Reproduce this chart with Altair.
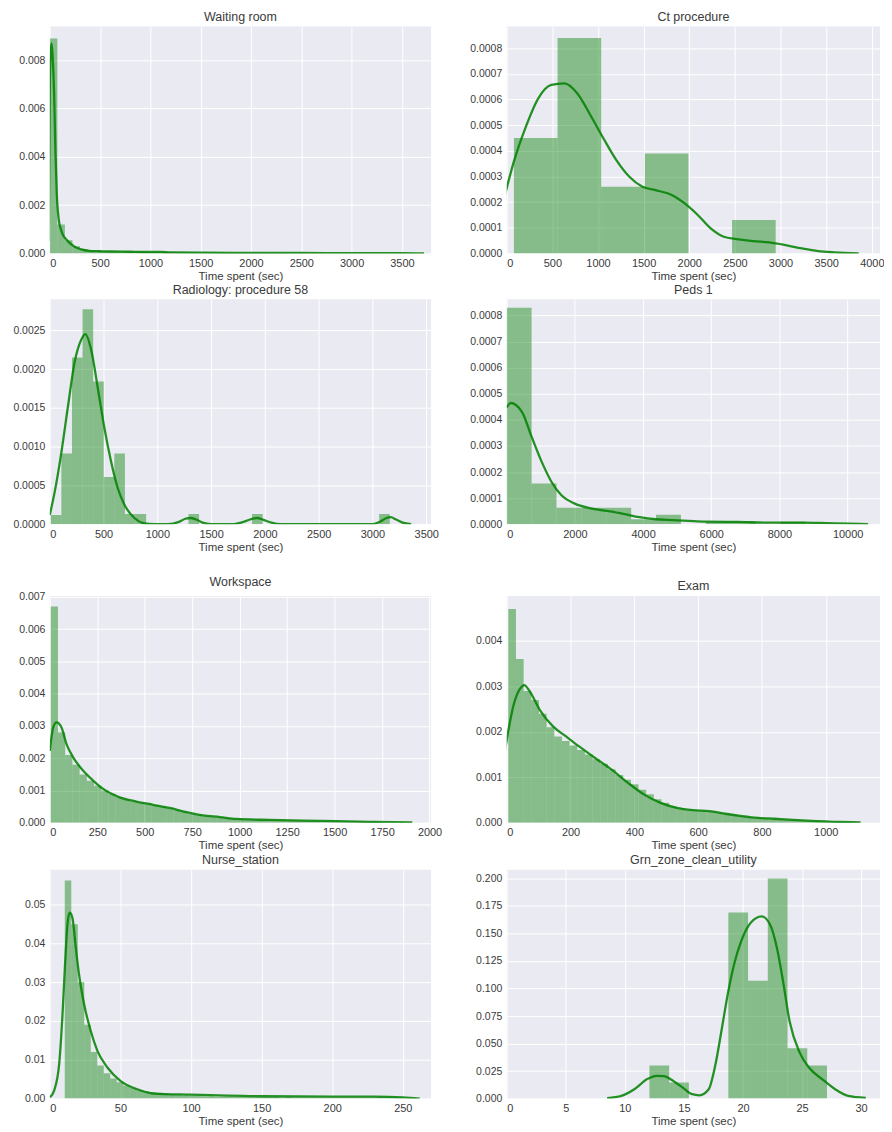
import altair as alt
import pandas as pd

# ---------------- Waiting room ----------------
wr_title = "Waiting room"
wr_bin_start = 0
wr_bin_width = 75
wr_hist = [0.0089, 0.0012, 0.00055, 0.0003, 0.00018, 0.00012, 0.0001, 0.00009, 0.00009, 0.00008,
           0.00008, 0.00007, 0.00007, 0.00006, 0.00005, 0.00006, 0.00004, 0.00004, 0.00004, 0.00003,
           0.00003, 0.00003, 0.00003, 0.00002, 0.00003, 0.00002, 0.00002, 0.00002, 0.00002, 0.00002,
           0.00002, 0.00002, 0.00001, 0.00002, 0.00001, 0.00001, 0.00001, 0.00001, 0.00001, 0.00001,
           0.00001, 0.00001, 0.00001, 0.00001, 0.00001, 0.00001, 0.00001, 0.00001, 0.00001, 0.00001]
wr_kde_x = [-10, 0, 8, 18, 30, 43, 56, 69, 89, 110, 132, 160, 181, 247, 313, 412, 500, 610, 800,
            940, 1100, 1200, 1500, 2000, 2500, 3000, 3500, 3720]
wr_kde_y = [0.0005, 0.0070, 0.0083, 0.0087, 0.0080, 0.0066, 0.0042, 0.0025, 0.0014, 0.0010, 0.00075,
            0.0006, 0.0005, 0.00028, 0.00017, 0.0001, 0.00009, 0.00008, 0.00007, 0.00006, 0.00006,
            0.00004, 0.00003, 0.00002, 0.00002, 0.00001, 0.00001, 0.0]
wr_xdom = [0, 3790]
wr_ydom = [0, 0.0094]
wr_xticks = [0, 500, 1000, 1500, 2000, 2500, 3000, 3500]
wr_yticks = [0, 0.002, 0.004, 0.006, 0.008]
wr_yfmt = ".3f"

# ---------------- Ct procedure ----------------
ct_title = "Ct procedure"
ct_bin_start = 79
ct_bin_width = 478
ct_hist = [0.00045, 0.00084, 0.00026, 0.00039, 0.0, 0.00013]
ct_kde_x = [-18, 78, 203, 346, 488, 631, 774, 916, 1059, 1201, 1344, 1487, 1629, 1807, 1950, 2093,
            2235, 2378, 2520, 2699, 2877, 3055, 3234, 3412, 3590, 3857]
ct_kde_y = [0.00023, 0.000358, 0.000488, 0.000605, 0.000657, 0.000663, 0.000624, 0.00054, 0.000449,
            0.000364, 0.000299, 0.00026, 0.000247, 0.000228, 0.000195, 0.00015, 0.0000975, 0.000065,
            0.000056, 0.000048, 0.000043, 0.0000325, 0.0000195, 0.000009, 0.000004, 0.0]
ct_xdom = [0, 4090]
ct_ydom = [0, 0.000885]
ct_xticks = [0, 500, 1000, 1500, 2000, 2500, 3000, 3500, 4000]
ct_yticks = [0, 0.0001, 0.0002, 0.0003, 0.0004, 0.0005, 0.0006, 0.0007, 0.0008]
ct_yfmt = ".4f"

# ---------------- Radiology: procedure 58 ----------------
rp_title = "Radiology: procedure 58"
rp_bin_start = 9
rp_bin_width = 98.5
rp_hist = [0.00012, 0.00091, 0.00215, 0.00277, 0.00184, 0.00061, 0.00091, 0.00013, 0.00013, 0.0,
           0.0, 0.0, 0.0, 0.00013, 0.0, 0.0, 0.0, 0.0, 0.0, 0.00013,
           0.0, 0.0, 0.0, 0.0, 0.0, 0.0, 0.0, 0.0, 0.0, 0.0,
           0.0, 0.00013, 0.0]
rp_kde_x = [0, 46, 108, 170, 231, 293, 330, 386, 448, 509, 571, 633, 694, 787, 880, 972, 1100, 1200,
            1260, 1310, 1360, 1420, 1500, 1700, 1800, 1880, 1930, 1980, 2060, 2150, 3000, 3080, 3130,
            3170, 3220, 3280, 3360]
rp_kde_y = [0.00012, 0.00042, 0.00093, 0.00153, 0.00209, 0.00238, 0.00245, 0.00224, 0.00174, 0.00123,
            0.0008, 0.00046, 0.00025, 0.00008, 0.00001, 0.0, 0.0, 0.00003, 0.00007, 0.00008, 0.00006,
            0.00002, 0.0, 0.0, 0.00003, 0.00007, 0.00008, 0.00006, 0.00002, 0.0, 0.0, 0.00004,
            0.00008, 0.00009, 0.00006, 0.00002, 0.0]
rp_xdom = [0, 3545]
rp_ydom = [0, 0.0029]
rp_xticks = [0, 500, 1000, 1500, 2000, 2500, 3000, 3500]
rp_yticks = [0, 0.0005, 0.0010, 0.0015, 0.0020, 0.0025]
rp_yfmt = ".4f"

# ---------------- Peds 1 ----------------
pd1_title = "Peds 1"
pd1_bin_start = 0
pd1_bin_width = 730
pd1_hist = [0.00083, 0.000156, 0.0000635, 0.0000635, 0.0000635, 0.000019, 0.000036, 0.0,
            0.000009, 0.000009, 0.0, 0.000009, 0.0, 0.0]
pd1_kde_x = [0, 115, 450, 718, 1024, 1311, 1598, 1981, 2460, 2938, 3416, 3895, 4373, 4852, 5330,
             5809, 6766, 7723, 8202, 8680, 9159, 9637, 10355, 10600]
pd1_kde_y = [0.000448, 0.000465, 0.00043, 0.00034, 0.00024, 0.000163, 0.000112, 0.00008, 0.000061,
             0.000051, 0.00004, 0.000027, 0.000019, 0.000016, 0.000013, 0.00001, 0.0000089, 0.000006,
             0.000006, 0.000006, 0.000005, 0.000003, 0.000001, 0.0]
pd1_xdom = [0, 10950]
pd1_ydom = [0, 0.000863]
pd1_xticks = [0, 2000, 4000, 6000, 8000, 10000]
pd1_yticks = [0, 0.0001, 0.0002, 0.0003, 0.0004, 0.0005, 0.0006, 0.0007, 0.0008]
pd1_yfmt = ".4f"

# ---------------- Workspace ----------------
ws_title = "Workspace"
ws_bin_start = 5
ws_bin_width = 38
ws_hist = [0.0067, 0.0028, 0.0021, 0.0018, 0.0015, 0.0013, 0.00115, 0.001, 0.0009, 0.0008,
           0.00073, 0.00067, 0.00062, 0.00058, 0.00054, 0.0005, 0.00046, 0.0004, 0.00034, 0.00028,
           0.00024, 0.00021, 0.00019, 0.00017, 0.00015, 0.00013, 0.00011, 0.0001, 0.0001, 0.00009,
           0.00009, 0.00008, 0.00008, 0.00007, 0.00007, 0.00006, 0.00006, 0.00005, 0.00005, 0.00005,
           0.00004, 0.00004, 0.00004, 0.00003, 0.00003, 0.00003, 0.00002, 0.00002, 0.00002, 0.00001]
ws_kde_x = [0, 18, 35, 61, 88, 123, 175, 228, 281, 368, 456, 544, 632, 719, 807, 895, 982, 1158,
            1333, 1509, 1684, 1909]
ws_kde_y = [0.00223, 0.00296, 0.00311, 0.00296, 0.00244, 0.00203, 0.00162, 0.00131, 0.00105, 0.00079,
            0.00066, 0.00056, 0.00046, 0.00033, 0.00023, 0.00018, 0.00012, 0.00009, 0.00007, 0.00005,
            0.00003, 0.00001]
ws_xdom = [0, 2008]
ws_ydom = [0, 0.00703]
ws_xticks = [0, 250, 500, 750, 1000, 1250, 1500, 1750, 2000]
ws_yticks = [0, 0.001, 0.002, 0.003, 0.004, 0.005, 0.006, 0.007]
ws_yfmt = ".3f"

# ---------------- Exam ----------------
ex_title = "Exam"
ex_bin_start = 5
ex_bin_width = 24
ex_hist = [0.0047, 0.0036, 0.0029, 0.0027, 0.0024, 0.0021, 0.0019, 0.0018, 0.0017, 0.0016,
           0.0015, 0.0014, 0.0013, 0.00118, 0.00105, 0.00095, 0.00085, 0.00073, 0.00063, 0.00052,
           0.00044, 0.00036, 0.00032, 0.00028, 0.00027, 0.00026, 0.00025, 0.00022, 0.0002, 0.00017,
           0.00015, 0.00013, 0.00011, 0.0001, 0.00009, 0.00008, 0.00007, 0.00006, 0.00005, 0.00004,
           0.00004, 0.00003, 0.00003, 0.00002, 0.00002, 0.00001]
ex_kde_x = [-5, 7, 22, 43, 55, 73, 104, 145, 186, 227, 278, 329, 380, 431, 482, 533, 584, 635, 686,
            737, 788, 839, 941, 1043, 1109]
ex_kde_y = [0.0016, 0.0021, 0.0026, 0.00296, 0.00303, 0.00288, 0.00248, 0.00212, 0.0019, 0.00168,
            0.00142, 0.00117, 0.00088, 0.00062, 0.00044, 0.00033, 0.00028, 0.00026, 0.0002, 0.00015,
            0.00011, 0.00009, 0.00005, 0.00002, 0.00001]
ex_xdom = [0, 1170]
ex_ydom = [0, 0.00499]
ex_xticks = [0, 200, 400, 600, 800, 1000]
ex_yticks = [0, 0.001, 0.002, 0.003, 0.004]
ex_yfmt = ".3f"

# ---------------- Nurse_station ----------------
ns_title = "Nurse_station"
ns_bin_start = 10.6
ns_bin_width = 4.6
ns_hist = [0.0562, 0.0449, 0.030, 0.019, 0.012, 0.0085, 0.0065, 0.0052, 0.0042, 0.0034,
           0.0027, 0.0022, 0.0019, 0.0017, 0.0015, 0.0013, 0.0011, 0.0009, 0.0008, 0.0008,
           0.0007, 0.0006, 0.0006, 0.0005, 0.0005, 0.0005, 0.0004, 0.0004, 0.0004, 0.0004,
           0.0004, 0.0004, 0.0004, 0.0003, 0.0004, 0.0003, 0.0003, 0.0003, 0.0003, 0.0003,
           0.0003, 0.0003, 0.0003, 0.0003, 0.0003, 0.0003, 0.0003, 0.0003, 0.0004, 0.0003,
           0.0002, 0.0002]
ns_kde_x = [0, 3, 6.6, 9, 10.8, 12.5, 14.1, 16, 18.4, 20.7, 24.3, 29, 33.7, 40.8, 50.2, 62, 73.6,
            100, 150, 200, 230, 250, 262]
ns_kde_y = [0.0003, 0.002, 0.0088, 0.0217, 0.0346, 0.0449, 0.0479, 0.0466, 0.0389, 0.032, 0.0243,
            0.0174, 0.0123, 0.008, 0.0045, 0.0024, 0.0013, 0.001, 0.0006, 0.0005, 0.0005, 0.0003, 0.0]
ns_xdom = [0, 270]
ns_ydom = [0, 0.059]
ns_xticks = [0, 50, 100, 150, 200, 250]
ns_yticks = [0, 0.01, 0.02, 0.03, 0.04, 0.05]
ns_yfmt = ".2f"

# ---------------- Grn_zone_clean_utility ----------------
gz_title = "Grn_zone_clean_utility"
gz_bin_start = 12.08
gz_bin_width = 1.67
gz_hist = [0.030, 0.0146, 0.0, 0.0, 0.169, 0.107, 0.200, 0.0457, 0.030]
gz_kde_x = [8.5, 9.7, 10.8, 11.9, 12.7, 13.3, 14.1, 14.9, 15.7, 16.3, 17.1, 17.65, 18.2, 18.75,
            19.3, 19.85, 20.67, 21.58, 22.3, 22.87, 23.4, 23.96, 24.79, 25.6, 26.7, 27.8, 28.9, 30.4]
gz_kde_y = [0.0003, 0.0024, 0.0085, 0.0177, 0.0207, 0.0204, 0.016, 0.01, 0.004, 0.003, 0.0085, 0.03,
            0.063, 0.097, 0.124, 0.143, 0.16, 0.1656, 0.158, 0.137, 0.106, 0.0695, 0.042, 0.028,
            0.0177, 0.0085, 0.0024, 0.0006]
gz_xdom = [0, 31.6]
gz_ydom = [0, 0.208]
gz_xticks = [0, 5, 10, 15, 20, 25, 30]
gz_yticks = [0, 0.025, 0.05, 0.075, 0.1, 0.125, 0.15, 0.175, 0.2]
gz_yfmt = ".3f"

GREEN = "#008000"
LEFT_W = 383
RIGHT_W = 375


def panel(title, bstart, bwidth, hist, kx, ky, xdom, ydom, xticks, yticks, yfmt, w, h):
    bars = pd.DataFrame({
        "x0": [bstart + i * bwidth for i in range(len(hist))],
        "x1": [bstart + (i + 1) * bwidth for i in range(len(hist))],
        "h": hist,
        "z": [0.0] * len(hist),
    })
    kde = pd.DataFrame({"x0": kx, "h": ky})
    xs = alt.Scale(domain=xdom, nice=False, zero=False)
    ys = alt.Scale(domain=ydom, nice=False, zero=False)
    xax = alt.Axis(values=xticks, format="d", title="Time spent (sec)")
    yax = alt.Axis(values=yticks, format=yfmt, title=None)
    rect = alt.Chart(bars).mark_rect(color=GREEN, opacity=0.43, clip=True).encode(
        x=alt.X("x0:Q", scale=xs, axis=xax),
        x2="x1:Q",
        y=alt.Y("h:Q", scale=ys, axis=yax),
        y2="z:Q",
    )
    line = alt.Chart(kde).mark_line(
        color=GREEN, strokeWidth=2.3, clip=True, opacity=0.85, interpolate="monotone"
    ).encode(
        x=alt.X("x0:Q", scale=xs, axis=xax),
        y=alt.Y("h:Q", scale=ys, axis=yax),
    )
    return alt.layer(rect, line).properties(
        width=w, height=h, title=alt.TitleParams(title, frame="group", anchor="middle")
    )


p_wr = panel(wr_title, wr_bin_start, wr_bin_width, wr_hist, wr_kde_x, wr_kde_y, wr_xdom, wr_ydom,
             wr_xticks, wr_yticks, wr_yfmt, LEFT_W, 228)
p_ct = panel(ct_title, ct_bin_start, ct_bin_width, ct_hist, ct_kde_x, ct_kde_y, ct_xdom, ct_ydom,
             ct_xticks, ct_yticks, ct_yfmt, RIGHT_W, 228)
p_rp = panel(rp_title, rp_bin_start, rp_bin_width, rp_hist, rp_kde_x, rp_kde_y, rp_xdom, rp_ydom,
             rp_xticks, rp_yticks, rp_yfmt, LEFT_W, 226)
p_pd = panel(pd1_title, pd1_bin_start, pd1_bin_width, pd1_hist, pd1_kde_x, pd1_kde_y, pd1_xdom,
             pd1_ydom, pd1_xticks, pd1_yticks, pd1_yfmt, RIGHT_W, 226)
p_ws = panel(ws_title, ws_bin_start, ws_bin_width, ws_hist, ws_kde_x, ws_kde_y, ws_xdom, ws_ydom,
             ws_xticks, ws_yticks, ws_yfmt, LEFT_W, 228)
p_ex = panel(ex_title, ex_bin_start, ex_bin_width, ex_hist, ex_kde_x, ex_kde_y, ex_xdom, ex_ydom,
             ex_xticks, ex_yticks, ex_yfmt, RIGHT_W, 228)
p_ns = panel(ns_title, ns_bin_start, ns_bin_width, ns_hist, ns_kde_x, ns_kde_y, ns_xdom, ns_ydom,
             ns_xticks, ns_yticks, ns_yfmt, LEFT_W, 230)
p_gz = panel(gz_title, gz_bin_start, gz_bin_width, gz_hist, gz_kde_x, gz_kde_y, gz_xdom, gz_ydom,
             gz_xticks, gz_yticks, gz_yfmt, RIGHT_W, 230)

row1 = alt.hconcat(p_wr, p_ct, spacing=76, bounds="flush")
row2 = alt.hconcat(p_rp, p_pd, spacing=76, bounds="flush")
row3 = alt.hconcat(p_ws, p_ex, spacing=76, bounds="flush")
row4 = alt.hconcat(p_ns, p_gz, spacing=76, bounds="flush")

top = alt.vconcat(row1, row2, spacing=1)
bottom = alt.vconcat(row3, row4, spacing=2)

chart = alt.vconcat(top, bottom, spacing=23).properties(padding=0)

chart = chart.configure_view(stroke=None, fill="#EAEAF2").configure_axis(
    grid=True, gridColor="white", gridWidth=1, domain=False, ticks=False,
    labelFont="Liberation Sans", labelColor="#3a3a3a",
    titleFont="Liberation Sans", titleFontWeight="normal", titleColor="#3a3a3a",
).configure_axisX(
    labelFontSize=11, labelPadding=4, titleFontSize=11.5, titlePadding=2
).configure_axisY(
    labelFontSize=10.5, labelPadding=5, minExtent=42, maxExtent=42
).configure_title(
    font="Liberation Sans", fontSize=12.5, fontWeight="normal", color="#3a3a3a", offset=3
)

chart.save("out.html", embed_options={"renderer": "svg", "actions": False})
